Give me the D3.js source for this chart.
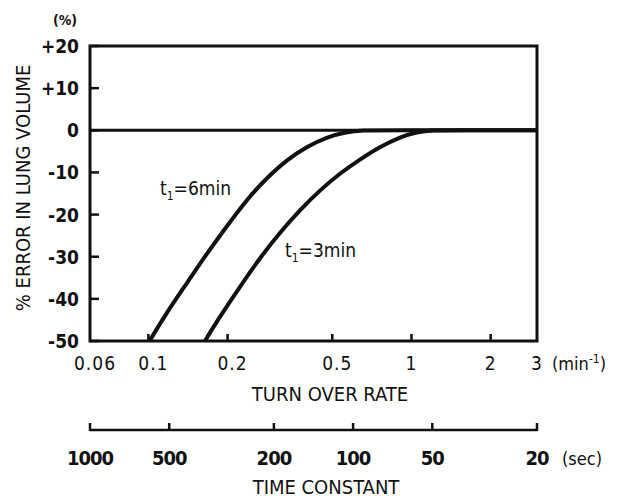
<!DOCTYPE html>
<html>
<head>
<meta charset="utf-8">
<script src="https://cdn.jsdelivr.net/npm/d3@7"></script>
<style>
  body { margin: 0; background: #fff; }
  text { font-family: "DejaVu Sans Condensed", "Liberation Sans Narrow", "DejaVu Sans", sans-serif; font-stretch: condensed; fill: #111; }
</style>
</head>
<body>
<svg id="chart" width="627" height="498"></svg>
<script>
// turn over rate (min^-1) vs % error in lung volume
const rateTicks = [0.06, 0.1, 0.2, 0.5, 1, 2, 3];
const rateLabels = ["0.06", "0.1", "0.2", "0.5", "1", "2", "3"];
const errTicks = [20, 10, 0, -10, -20, -30, -40, -50];
const errLabels = ["+20", "+10", "0", "-10", "-20", "-30", "-40", "-50"];
const timeTicks = [1000, 500, 200, 100, 50, 20];
const timeLabels = ["1000", "500", "200", "100", "50", "20"];

// t1 = 6 min
const rate6 = [0.101, 0.117, 0.140, 0.167, 0.198, 0.236, 0.282, 0.336, 0.400, 0.476, 0.567, 0.65, 0.8, 3];
const err6  = [-50, -43.4, -36.3, -29.2, -22.9, -16.5, -11.3, -7, -3.9, -1.6, -0.4, 0, 0, 0];
// t1 = 3 min
const rate3 = [0.164, 0.187, 0.223, 0.266, 0.316, 0.377, 0.449, 0.535, 0.637, 0.759, 0.904, 1.05, 1.2, 1.5, 3];
const err3  = [-50, -44.2, -37.1, -30.2, -24.3, -18.9, -14.2, -10.2, -6.9, -3.9, -1.6, -0.4, 0, 0, 0];

const svg = d3.select("#chart");
const m = {left: 90, right: 537, top: 46, bottom: 341};

var x = d3.scaleLog().domain([0.06, 3]).range([m.left, m.right]);
var y = d3.scaleLinear().domain([-50, 20]).range([m.bottom, m.top]);
var xt = d3.scaleLog().domain([1000, 20]).range([m.left, m.right]);

// frame
svg.append("rect")
  .attr("x", m.left).attr("y", m.top)
  .attr("width", m.right - m.left).attr("height", m.bottom - m.top)
  .attr("fill", "none").attr("stroke", "#111").attr("stroke-width", 3);

// zero line
svg.append("line")
  .attr("x1", m.left).attr("x2", m.right)
  .attr("y1", y(0)).attr("y2", y(0))
  .attr("stroke", "#111").attr("stroke-width", 3);

// y ticks (inward) + labels
svg.selectAll(".ytick").data(errTicks).enter().append("line")
  .attr("x1", m.left).attr("x2", m.left + 9)
  .attr("y1", d => y(d)).attr("y2", d => y(d))
  .attr("stroke", "#111").attr("stroke-width", 2.5);

svg.selectAll(".ylab").data(errTicks).enter().append("text")
  .attr("x", 79).attr("y", d => y(d) + 7)
  .attr("text-anchor", "end")
  .style("font-size", "19px").style("font-weight", "bold")
  .text((d, i) => errLabels[i]);

svg.append("text").attr("x", 65).attr("y", 25)
  .attr("text-anchor", "middle")
  .style("font-size", "14px").style("font-weight", "bold")
  .text("(%)");

svg.append("text")
  .attr("transform", "translate(30,188) rotate(-90)")
  .attr("text-anchor", "middle")
  .style("font-size", "20px")
  .text("% ERROR IN LUNG VOLUME");

// x ticks (inward) + labels
svg.selectAll(".xtick").data(rateTicks.slice(1, -1)).enter().append("line")
  .attr("x1", d => x(d)).attr("x2", d => x(d))
  .attr("y1", m.bottom).attr("y2", m.bottom - 7)
  .attr("stroke", "#111").attr("stroke-width", 2.5);

svg.selectAll(".xlab").data(rateTicks).enter().append("text")
  .attr("x", d => x(d) + (d < 1 ? 5 : 0)).attr("y", 370)
  .attr("text-anchor", "middle")
  .style("font-size", "19px")
  .style("letter-spacing", "1px")
  .text((d, i) => rateLabels[i]);

var unit = svg.append("text").attr("x", 552).attr("y", 370)
  .style("font-size", "18px");
unit.append("tspan").text("(min");
unit.append("tspan").attr("dy", -7).style("font-size", "12px").text("-1");
unit.append("tspan").attr("dy", 7).text(")");

svg.append("text").attr("x", 330).attr("y", 401)
  .attr("text-anchor", "middle")
  .style("font-size", "20px")
  .text("TURN OVER RATE");

// time constant axis
svg.append("line")
  .attr("x1", m.left).attr("x2", m.right)
  .attr("y1", 430).attr("y2", 430)
  .attr("stroke", "#111").attr("stroke-width", 2.5);

svg.selectAll(".ttick").data(timeTicks).enter().append("line")
  .attr("x1", d => xt(d)).attr("x2", d => xt(d))
  .attr("y1", 431).attr("y2", 423)
  .attr("stroke", "#111").attr("stroke-width", 2.5);

svg.selectAll(".tlab").data(timeTicks).enter().append("text")
  .attr("x", d => xt(d)).attr("y", 465)
  .attr("text-anchor", "middle")
  .style("font-size", "20px").style("font-weight", "bold")
  .style("letter-spacing", "-1px")
  .text((d, i) => timeLabels[i]);

svg.append("text").attr("x", 562).attr("y", 465)
  .style("font-size", "18px")
  .text("(sec)");

svg.append("text").attr("x", 326).attr("y", 494)
  .attr("text-anchor", "middle")
  .style("font-size", "20px")
  .text("TIME CONSTANT");

// curves
var line = d3.line()
  .x(d => x(d[0]))
  .y(d => y(d[1]))
  .curve(d3.curveBasis);

[[rate6, err6], [rate3, err3]].forEach(function(s) {
  svg.append("path")
    .datum(d3.zip(s[0], s[1]))
    .attr("fill", "none")
    .attr("stroke", "#111")
    .attr("stroke-width", 4)
    .attr("d", line);
});

// curve labels
function curveLabel(xp, yp, txt) {
  var t = svg.append("text").attr("x", xp).attr("y", yp).style("font-size", "19px");
  t.append("tspan").text("t");
  t.append("tspan").attr("dy", 5).style("font-size", "12px").text("1");
  t.append("tspan").attr("dy", -5).text("=" + txt);
}
curveLabel(160, 195, "6min");
curveLabel(285, 257, "3min");
</script>
</body>
</html>
